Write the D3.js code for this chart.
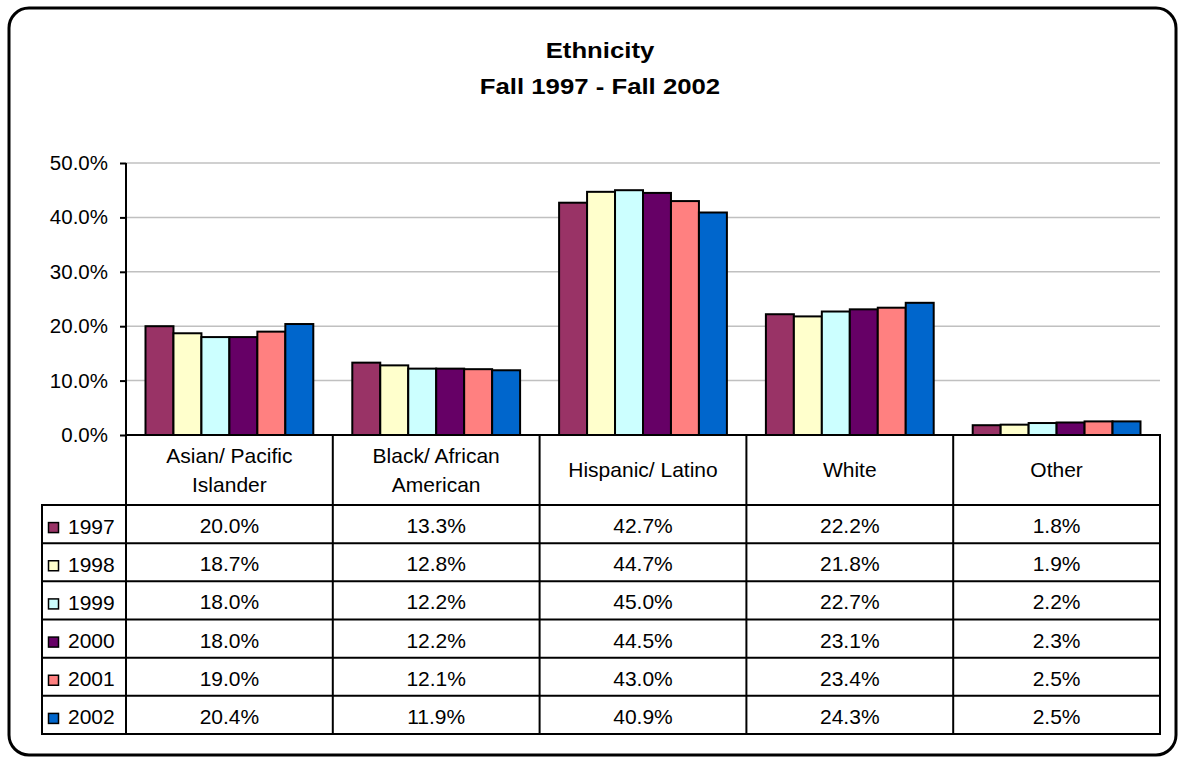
<!DOCTYPE html>
<html><head><meta charset="utf-8">
<script src="https://cdn.jsdelivr.net/npm/d3@7"></script>
<style>html,body{margin:0;padding:0;background:#fff;}svg{display:block;}</style>
</head><body>
<svg id="c" width="1179" height="759"></svg>
<script>
const categories = ["Asian/ Pacific Islander", "Black/ African American", "Hispanic/ Latino", "White", "Other"];
const headerLines = [["Asian/ Pacific", "Islander"], ["Black/ African", "American"], ["Hispanic/ Latino"], ["White"], ["Other"]];
const years = ["1997", "1998", "1999", "2000", "2001", "2002"];
const v1997 = [20.0, 13.3, 42.7, 22.2, 1.8];
const v1998 = [18.7, 12.8, 44.7, 21.8, 1.9];
const v1999 = [18.0, 12.2, 45.0, 22.7, 2.2];
const v2000 = [18.0, 12.2, 44.5, 23.1, 2.3];
const v2001 = [19.0, 12.1, 43.0, 23.4, 2.5];
const v2002 = [20.4, 11.9, 40.9, 24.3, 2.5];
const colors = ["#993366", "#FFFFCC", "#CCFFFF", "#660066", "#FF8080", "#0066CC"];
const yTicks = [0, 10, 20, 30, 40, 50];
const titleLines = ["Ethnicity", "Fall 1997 - Fall 2002"];

(function () {
const series = [v1997, v1998, v1999, v2000, v2001, v2002];
const svg = d3.select("#c");
const FONT = "'Liberation Sans', Arial, sans-serif";

// outer rounded border
svg.append("rect").attr("x", 9).attr("y", 8).attr("width", 1167).attr("height", 747)
  .attr("rx", 20).attr("fill", "none").attr("stroke", "#000").attr("stroke-width", 3);

// title
titleLines.forEach((t, i) => {
  svg.append("text").attr("transform", `translate(600,${58 + i * 36}) scale(1.17,1)`)
    .attr("text-anchor", "middle").attr("font-family", FONT).attr("font-weight", "bold")
    .attr("font-size", 22).attr("fill", "#000").text(t);
});

const pLeft = 126, pRight = 1160, pTop = 163, pBottom = 435;
const x0 = d3.scaleBand().domain(categories).range([pLeft, pRight]).padding(0);
const bw = x0.bandwidth();
const x1 = d3.scaleBand().domain(years).range([19.5, bw - 19.5]).padding(0);
const y = d3.scaleLinear().domain([0, 50]).range([pBottom, pTop]);

// gridlines
svg.append("g").selectAll("line").data(yTicks.filter(d => d > 0)).join("line")
  .attr("x1", pLeft).attr("x2", pRight).attr("y1", d => y(d)).attr("y2", d => y(d))
  .attr("stroke", "#c0c0c0").attr("stroke-width", 1.5);

// y axis
const yAxis = d3.axisLeft(y).tickValues(yTicks).tickSize(6).tickPadding(12)
  .tickFormat(d => d.toFixed(1) + "%");
const gy = svg.append("g").attr("transform", `translate(${pLeft},0)`).call(yAxis);
gy.select(".domain").remove();
gy.selectAll(".tick line").attr("stroke", "#000").attr("stroke-width", 2);
gy.selectAll(".tick text").attr("font-family", FONT).attr("font-size", 20.5).attr("fill", "#000");

// bars
const gb = svg.append("g");
categories.forEach((c, ci) => {
  years.forEach((yr, si) => {
    const v = series[si][ci];
    gb.append("rect")
      .attr("x", x0(c) + x1(yr)).attr("width", x1.bandwidth())
      .attr("y", y(v)).attr("height", y(0) - y(v))
      .attr("fill", colors[si]).attr("stroke", "#000").attr("stroke-width", 2);
  });
});

// table
const tableLeft = 42, headerBottom = 505, tableBottom = 734;
const rowH = (tableBottom - headerBottom) / years.length;
const gt = svg.append("g");
const line = (xa, ya, xb, yb, w) => gt.append("line").attr("x1", xa).attr("y1", ya).attr("x2", xb).attr("y2", yb)
  .attr("stroke", "#000").attr("stroke-width", w || 2);

line(pLeft, pTop, pLeft, tableBottom);
line(pLeft - 1, pBottom, pRight + 1, pBottom);
categories.forEach((c) => { line(x0(c) + bw, pBottom, x0(c) + bw, tableBottom); });
line(tableLeft, headerBottom, tableLeft, tableBottom);
for (let r = 0; r <= years.length; r++) {
  line(tableLeft - 1, headerBottom + r * rowH, pRight + 1, headerBottom + r * rowH, 2);
}

// header text
categories.forEach((c, ci) => {
  const lines = headerLines[ci];
  const cx = x0(c) + bw / 2;
  const mid = (pBottom + headerBottom) / 2;
  lines.forEach((t, li) => {
    const by = mid + 7 + (li - (lines.length - 1) / 2) * 29;
    gt.append("text").attr("x", cx).attr("y", by).attr("text-anchor", "middle")
      .attr("font-family", FONT).attr("font-size", 21).attr("fill", "#000").text(t);
  });
});

// rows
years.forEach((yr, si) => {
  const cy = headerBottom + si * rowH + rowH / 2;
  gt.append("rect").attr("x", 48.5).attr("y", cy - 1.5).attr("width", 10).attr("height", 10)
    .attr("fill", colors[si]).attr("stroke", "#000").attr("stroke-width", 1.5);
  gt.append("text").attr("x", 68).attr("y", cy + 9.5).attr("font-family", FONT).attr("font-size", 21)
    .attr("fill", "#000").text(yr);
  categories.forEach((c, ci) => {
    gt.append("text").attr("x", x0(c) + bw / 2).attr("y", cy + 9).attr("text-anchor", "middle")
      .attr("font-family", FONT).attr("font-size", 21).attr("fill", "#000")
      .text(series[si][ci].toFixed(1) + "%");
  });
});
})();
</script>
</body></html>
